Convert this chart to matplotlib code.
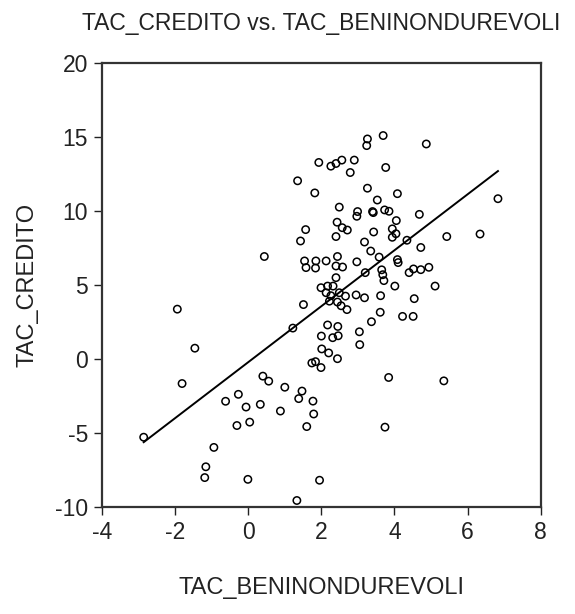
import numpy as np
import matplotlib.pyplot as plt

plt.rcParams['font.family'] = ['Liberation Sans', 'DejaVu Sans']
plt.rcParams['axes.unicode_minus'] = False

# TAC_BENINONDUREVOLI (x) and TAC_CREDITO (y)
tac_benin = [
    3.69, 3.26, 3.24, 4.87, 1.93, 2.26, 2.40, 2.56, 2.90, 2.79,
    3.76, 1.35, 1.82, 3.26, 4.08, 3.53, 6.83, 2.49, 2.99, 2.97,
    3.40, 3.42, 3.73, 3.85, 4.68, 4.05, 2.43, 2.57, 2.71, 1.57,
    1.43, 2.40, 3.43, 3.94, 4.04, 3.94, 5.43, 6.34, 4.34, 3.18,
    4.72, 3.35, 3.58, 0.44, 1.54, 1.85, 1.58, 1.84, 2.44, 2.13,
    2.40, 2.58, 2.97, 4.08, 4.10, 3.20, 3.65, 3.68, 3.71, 4.40,
    4.52, 4.72, 4.94, 2.40, 5.11, 4.01, 1.99, 2.17, 2.32, 2.13,
    2.26, 2.49, 2.66, 2.22, 2.44, 2.54, 2.70, 2.95, 3.18, 3.62,
    4.54, 3.61, 4.22, 4.51, 3.37, 3.04, 3.05, 2.17, 2.45, 2.00,
    2.31, 2.46, 2.01, 2.20, 2.44, 1.74, 1.84, 1.99, 1.51, -1.94,
    1.22, -1.46, -1.81, 0.40, 0.56, 1.00, 1.47, 1.38, 1.77, 1.79,
    1.60, 3.84, 5.35, 3.74, 1.95, -0.62, -0.27, -0.06, 0.33, 0.88,
    -0.31, 0.04, -2.86, -0.94, -1.16, -1.19, -0.01, 1.33,
]
tac_credito = [
    15.11, 14.88, 14.43, 14.54, 13.29, 13.04, 13.22, 13.45, 13.45, 12.61,
    12.95, 12.05, 11.23, 11.55, 11.18, 10.75, 10.84, 10.27, 9.97, 9.65,
    9.97, 9.90, 10.08, 9.99, 9.78, 9.36, 9.25, 8.88, 8.72, 8.75,
    7.98, 8.28, 8.59, 8.80, 8.47, 8.23, 8.28, 8.45, 8.03, 7.91,
    7.54, 7.30, 6.89, 6.93, 6.63, 6.63, 6.18, 6.15, 6.93, 6.63,
    6.29, 6.22, 6.57, 6.72, 6.52, 5.84, 6.03, 5.70, 5.30, 5.84,
    6.09, 6.04, 6.20, 5.50, 4.93, 4.93, 4.82, 4.93, 4.93, 4.48,
    4.28, 4.48, 4.25, 3.91, 3.85, 3.60, 3.34, 4.33, 4.14, 4.28,
    4.08, 3.16, 2.88, 2.88, 2.52, 1.84, 0.97, 2.30, 2.20, 1.55,
    1.44, 1.57, 0.68, 0.41, 0.02, -0.27, -0.18, -0.58, 3.68, 3.37,
    2.09, 0.73, -1.66, -1.16, -1.50, -1.91, -2.17, -2.68, -2.85, -3.72,
    -4.57, -1.25, -1.48, -4.61, -8.20, -2.86, -2.39, -3.25, -3.07, -3.52,
    -4.50, -4.27, -5.29, -5.98, -7.29, -8.02, -8.14, -9.57,
]

x = np.array(tac_benin)
y = np.array(tac_credito)

fig = plt.figure(figsize=(5.75, 6.14), dpi=100)
ax = fig.add_axes([0.1774, 0.1745, 0.763, 0.7225])

ax.scatter(x, y, s=28, facecolors='none', edgecolors='black', linewidths=1.1, zorder=3)

# least squares line over the range of x
slope, intercept = np.polyfit(x, y, 1)
xl = np.array([x.min(), x.max()])
ax.plot(xl, intercept + slope * xl, color='black', linewidth=1.4, zorder=2)

ax.set_xlim(-4, 8)
ax.set_ylim(-10, 20)
ax.set_xticks([-4, -2, 0, 2, 4, 6, 8])
ax.set_yticks([-10, -5, 0, 5, 10, 15, 20])
ax.tick_params(direction='out', length=6, width=1, pad=4, labelsize=16.5, colors='#222222')
for s in ax.spines.values():
    s.set_linewidth(1.6)
    s.set_color('#333333')

ax.set_xlabel('TAC_BENINONDUREVOLI', fontsize=17, labelpad=24, color='#222222')
ax.set_ylabel('TAC_CREDITO', fontsize=17, labelpad=12, color='#222222')
ax.set_title('TAC_CREDITO vs. TAC_BENINONDUREVOLI', fontsize=16.5, pad=24, color='#222222')

fig.savefig('out.png', dpi=100)
